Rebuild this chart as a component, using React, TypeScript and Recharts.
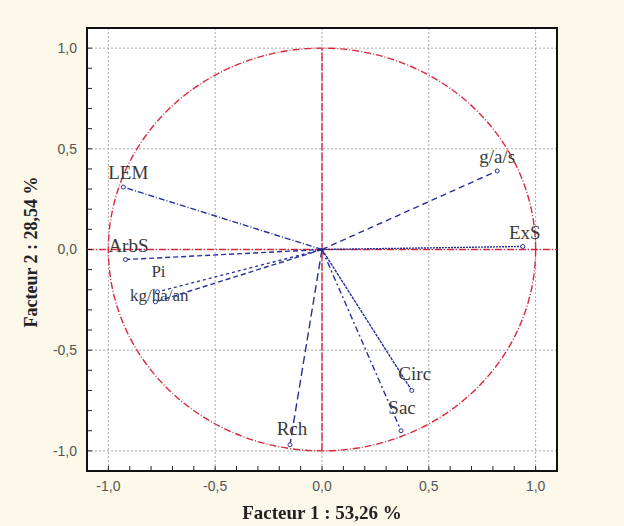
import { ScatterChart, Scatter, XAxis, YAxis, CartesianGrid, ReferenceLine, ReferenceArea } from 'recharts';

// variable coordinates on the two factors
const variables = ['LEM', 'ArbS', 'Pi', 'kg/ha/an', 'g/a/s', 'ExS', 'Circ', 'Sac', 'Rch'];
const factor1 = [-0.93, -0.92, -0.77, -0.78, 0.82, 0.94, 0.42, 0.37, -0.15];
const factor2 = [0.31, -0.05, -0.21, -0.26, 0.39, 0.015, -0.70, -0.90, -0.97];

const majorTicks = [-1, -0.5, 0, 0.5, 1];
const minorTicks = [-1, -0.9, -0.8, -0.7, -0.6, -0.5, -0.4, -0.3, -0.2, -0.1, 0, 0.1, 0.2, 0.3, 0.4, 0.5, 0.6, 0.7, 0.8, 0.9, 1];

const BLUE = '#25309a';
const RED = '#d9283c';

const lineStyle: Record<string, { dash: string; dx: number; dy: number }> = {
  LEM: { dash: '6 2 1 2', dx: 5, dy: -8 },
  ArbS: { dash: '5 3', dx: 3, dy: -8 },
  Pi: { dash: '3 3', dx: 1, dy: -15 },
  'kg/ha/an': { dash: '5 3', dx: 4, dy: -1 },
  'g/a/s': { dash: '6 4', dx: 0, dy: -8 },
  ExS: { dash: '2 1', dx: 2, dy: -7 },
  Circ: { dash: '3 1', dx: 3, dy: -10 },
  Sac: { dash: '6 3 2 3', dx: 1, dy: -17 },
  Rch: { dash: '8 4', dx: 2, dy: -10 },
};

const fmt = (v: number) => {
  const r = Math.round(v * 10) / 10;
  return majorTicks.includes(r) ? r.toFixed(1).replace('.', ',') : '';
};

const vectors = variables.map((name, i) => ({ name, x: factor1[i], y: factor2[i] }));

const EndPoint = (p: any) => {
  const s = lineStyle[p.payload.name];
  const small = p.payload.name === 'Pi' || p.payload.name === 'kg/ha/an';
  return (
    <g>
      <circle cx={p.cx} cy={p.cy} r={2} fill="#fff" stroke={BLUE} strokeWidth={1} />
      <text
        x={p.cx + s.dx}
        y={p.cy + s.dy}
        textAnchor="middle"
        fontFamily="Liberation Serif"
        fontSize={small ? 17 : 19}
        fill="#3a3a3a"
      >
        {p.payload.name}
      </text>
    </g>
  );
};

export default function App() {
  return (
    <div style={{ position: 'fixed', left: 0, top: 0, width: 624, height: 526, background: '#fcf8ea' }}>
      <ScatterChart width={624} height={526} margin={{ top: 28, right: 67, left: 47, bottom: 25 }}>
        <CartesianGrid
          fill="#ffffff"
          stroke="#a8a8a8"
          strokeDasharray="2 2"
          verticalValues={majorTicks}
          horizontalValues={majorTicks}
        />
        <XAxis
          type="number"
          dataKey="x"
          domain={[-1.1, 1.1]}
          allowDataOverflow
          ticks={minorTicks}
          interval={0}
          tickFormatter={fmt}
          height={30}
          tickSize={-5}
          tickMargin={15}
          tickLine={{ stroke: '#222' }}
          axisLine={false}
          tick={{ fill: '#555', fontSize: 14, fontFamily: 'Liberation Sans' }}
        />
        <YAxis
          type="number"
          dataKey="y"
          domain={[-1.1, 1.1]}
          allowDataOverflow
          ticks={minorTicks}
          interval={0}
          tickFormatter={fmt}
          width={40}
          tickSize={-5}
          tickMargin={15}
          tickLine={{ stroke: '#222' }}
          axisLine={false}
          tick={{ fill: '#555', fontSize: 14, fontFamily: 'Liberation Sans' }}
        />
        {/* plot frame */}
        <ReferenceArea x1={-1.1} x2={1.1} y1={-1.1} y2={1.1} fill="none" stroke="#111" strokeWidth={2} fillOpacity={0} />
        {/* correlation circle of radius 1 */}
        <ReferenceArea
          x1={-1}
          x2={1}
          y1={-1}
          y2={1}
          shape={(p: any) => (
            <ellipse
              cx={p.x + p.width / 2}
              cy={p.y + p.height / 2}
              rx={Math.abs(p.width) / 2}
              ry={Math.abs(p.height) / 2}
              fill="none"
              stroke={RED}
              strokeWidth={1.4}
              strokeDasharray="7 2 1 2"
            />
          )}
        />
        <ReferenceLine y={0} stroke={RED} strokeWidth={1.4} strokeDasharray="7 2 1 2" />
        <ReferenceLine segment={[{ x: 0, y: -1 }, { x: 0, y: 1 }]} stroke={RED} strokeWidth={1.4} strokeDasharray="8 2" />
        {vectors.map((v) => (
          <ReferenceLine
            key={'l' + v.name}
            segment={[{ x: 0, y: 0 }, { x: v.x, y: v.y }]}
            stroke={BLUE}
            strokeWidth={1.4}
            strokeDasharray={lineStyle[v.name].dash}
          />
        ))}
        <Scatter data={vectors} shape={EndPoint} isAnimationActive={false} />
      </ScatterChart>
      <div
        style={{
          position: 'absolute',
          left: 0,
          width: 644,
          top: 502,
          textAlign: 'center',
          fontFamily: 'Liberation Serif',
          fontWeight: 'bold',
          fontSize: 19,
          color: '#222',
        }}
      >
        Facteur 1 : 53,26 %
      </div>
      <div
        style={{
          position: 'absolute',
          left: 31,
          top: 252,
          transform: 'translate(-50%, -50%) rotate(-90deg)',
          whiteSpace: 'nowrap',
          fontFamily: 'Liberation Serif',
          fontWeight: 'bold',
          fontSize: 18,
          color: '#222',
        }}
      >
        Facteur 2 : 28,54 %
      </div>
    </div>
  );
}
